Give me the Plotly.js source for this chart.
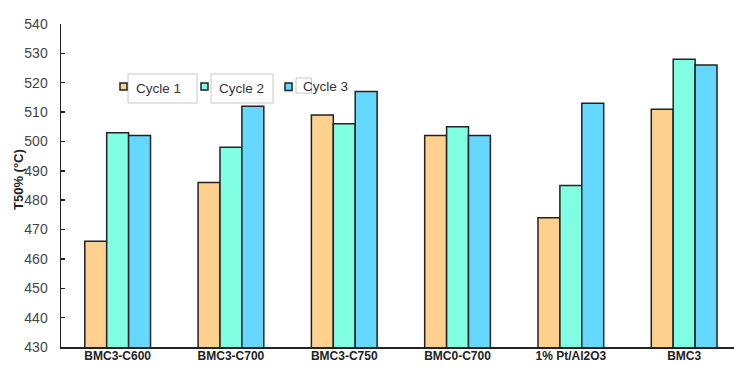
<!DOCTYPE html>
<html>
<head>
<meta charset="utf-8">
<script src="https://cdn.plot.ly/plotly-3.0.1.min.js"></script>
<style>html,body{margin:0;padding:0;background:#fff;}#chart{width:734px;height:369px;}</style>
</head>
<body>
<div id="chart"></div>
<script>
const categories = ["BMC3-C600", "BMC3-C700", "BMC3-C750", "BMC0-C700", "1% Pt/Al2O3", "BMC3"];
const seriesNames = ["Cycle 1", "Cycle 2", "Cycle 3"];
const cycle1 = [466, 486, 509, 502, 474, 511];
const cycle2 = [503, 498, 506, 505, 485, 528];
const cycle3 = [502, 512, 517, 502, 513, 526];
const yTicks = [430, 440, 450, 460, 470, 480, 490, 500, 510, 520, 530, 540];
const colors = ["#FFD08E", "#80FFE2", "#66D8FF"];

const W = 734, H = 369;
const M = {l: 61, r: 0, t: 24, b: 22};
const pw = W - M.l - M.r, ph = H - M.t - M.b;
const px = x => (x - M.l) / pw;
const py = y => 1 - (y - M.t) / ph;

const values = [cycle1, cycle2, cycle3];
const traces = values.map((v, i) => ({
  type: "bar",
  name: seriesNames[i],
  x: categories,
  y: v,
  base: 0,
  marker: {color: colors[i], line: {color: "#222", width: 1.5}},
  showlegend: false,
  hoverinfo: "x+y+name"
}));

// legend drawn manually to mimic the original layout
const legendItems = [
  {marker: [120, 83, 127, 90], box: [128, 74, 197, 103], text: [158.5, 88.5]},
  {marker: [201, 83, 208, 90], box: [211, 74, 273, 103], text: [241, 88.5]},
  {marker: [285, 83, 292, 90.5], box: [296, 78, 311.5, 93], text: [325.5, 86.5]}
];
const shapes = [];
const annotations = [];
legendItems.forEach((it, i) => {
  shapes.push({type: "rect", xref: "paper", yref: "paper",
    x0: px(it.box[0]), x1: px(it.box[2]), y0: py(it.box[3]), y1: py(it.box[1]),
    line: {color: "#c8c8c8", width: 1}, fillcolor: "rgba(0,0,0,0)"});
  shapes.push({type: "rect", xref: "paper", yref: "paper",
    x0: px(it.marker[0]), x1: px(it.marker[2]), y0: py(it.marker[3]), y1: py(it.marker[1]),
    line: {color: "#222", width: 1.5}, fillcolor: colors[i]});
  annotations.push({xref: "paper", yref: "paper", x: px(it.text[0]), y: py(it.text[1]),
    xanchor: "center", yanchor: "middle", showarrow: false, text: seriesNames[i],
    font: {family: "Liberation Sans, Arial, sans-serif", size: 13.5, color: "#333"}});
});
annotations.push({xref: "paper", yref: "paper", x: px(18), y: py(180), xanchor: "center", yanchor: "middle",
  showarrow: false, textangle: -90, text: "<b>T50% (°C)</b>",
  font: {family: "Liberation Sans, Arial, sans-serif", size: 13, color: "#222"}});

const layout = {
  width: W, height: H,
  margin: M,
  paper_bgcolor: "#fff", plot_bgcolor: "#fff",
  barmode: "group", bargap: 0.42, bargroupgap: 0,
  font: {family: "Liberation Sans, Arial, sans-serif"},
  xaxis: {
    range: [-0.5, 5.44],
    showline: true, linecolor: "#222", linewidth: 1.5,
    ticks: "", showgrid: false, zeroline: false,
    tickfont: {size: 12, color: "#222", family: "Liberation Sans, Arial, sans-serif", weight: "bold"},
    ticklabelstandoff: -3
  },
  yaxis: {
    range: [430, 540],
    tickvals: yTicks,
    showline: true, linecolor: "#222", linewidth: 1.5,
    ticks: "inside", ticklen: 4, tickcolor: "#222", tickwidth: 1.5,
    showgrid: false, zeroline: false,
    tickfont: {size: 14, color: "#444", family: "Liberation Sans, Arial, sans-serif"},
    ticklabelstandoff: 9
  },
  shapes: shapes,
  annotations: annotations
};

Plotly.newPlot("chart", traces, layout, {displayModeBar: false, staticPlot: true});
</script>
</body>
</html>
